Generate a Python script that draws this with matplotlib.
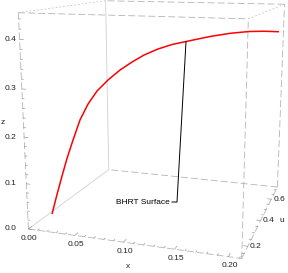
import numpy as np
import matplotlib
matplotlib.use('Agg')
import matplotlib.pyplot as plt
from matplotlib.lines import Line2D
from matplotlib.transforms import IdentityTransform
from mpl_toolkits.mplot3d import proj3d

plt.rcParams['font.family'] = ['Liberation Sans', 'DejaVu Sans']
plt.rcParams['lines.scale_dashes'] = False

# curve (x, u, z)
curve_x = [0.0233, 0.0273, 0.0313, 0.0352, 0.0399, 0.0452, 0.0513, 0.0580, 0.0661, 0.0751, 0.0842,
           0.0934, 0.1042, 0.1153, 0.1266, 0.1365, 0.1473, 0.1636, 0.1804, 0.1941, 0.2081]
curve_u = [0.1350, 0.1475, 0.1599, 0.1721, 0.1866, 0.2033, 0.2220, 0.2429, 0.2683, 0.2962, 0.3244,
           0.3530, 0.3868, 0.4213, 0.4564, 0.4871, 0.5209, 0.5716, 0.6239, 0.6663, 0.7100]
curve_z = [0.0349, 0.0758, 0.1144, 0.1506, 0.1886, 0.2294, 0.2615, 0.2872, 0.3083, 0.3274, 0.3425,
           0.3556, 0.3665, 0.3743, 0.3789, 0.3829, 0.3871, 0.3914, 0.3931, 0.3918, 0.3886]
callout_idx = 14
callout_text = "BHRT Surface"

x_lim = (0.0, 0.212)
u_lim = (0.117, 0.731)
z_lim = (0.0, 0.452)
x_ticks = [0.00, 0.05, 0.10, 0.15, 0.20]
x_labels = ["0.00", "0.05", "0.10", "0.15", "0.20"]
u_ticks = [0.2, 0.4, 0.6]
u_labels = ["0.2", "0.4", "0.6"]
z_ticks = [0.0, 0.1, 0.2, 0.3, 0.4]
z_labels = ["0.0", "0.1", "0.2", "0.3", "0.4"]

W, H = 288, 273
fig = plt.figure(figsize=(W/100, H/100), dpi=100)
ax = fig.add_axes([-0.0338, -0.0391, 1.1715, 1.2358], projection='3d')
ax.set_xlim(*x_lim)
ax.set_ylim(*u_lim)
ax.set_zlim(*z_lim)
ax.view_init(elev=12.556, azim=-71.686, roll=0)
ax.set_proj_type('persp', focal_length=0.3659)
ax.set_box_aspect((1, 0.9505, 0.9910))
ax.set_axis_off()

# bounding box
x0, x1 = x_lim
u0, u1 = u_lim
z0, z1 = z_lim
dash = dict(color='#b4b4b4', lw=0.6, dashes=(5, 2.2))
dot = dict(color='#c4c4c4', lw=0.6, dashes=(1.2, 1.5))
solid = dict(color='#d0d0d0', lw=0.6)
edges = [
    ((x0, x1), (u0, u0), (z0, z0), dash),
    ((x1, x1), (u0, u1), (z0, z0), dash),
    ((x1, x0), (u1, u1), (z0, z0), dash),
    ((x0, x0), (u1, u0), (z0, z0), solid),
    ((x0, x0), (u0, u0), (z0, z1), dash),
    ((x1, x1), (u0, u0), (z0, z1), dash),
    ((x1, x1), (u1, u1), (z0, z1), dash),
    ((x0, x0), (u1, u1), (z0, z1), solid),
    ((x0, x1), (u0, u0), (z1, z1), dash),
    ((x1, x1), (u0, u1), (z1, z1), dot),
    ((x1, x0), (u1, u1), (z1, z1), dash),
    ((x0, x0), (u1, u0), (z1, z1), dot),
]
for ex, eu, ez, st in edges:
    ax.plot(ex, eu, ez, **st)

# tick marks
tick_c = '#9a9a9a'
for t in np.arange(0, 0.4501, 0.02):
    major = any(abs(t - m) < 1e-9 for m in z_ticks)
    ln = 0.004 if major else 0.002
    ax.plot([x0, x0 + ln], [u0, u0], [t, t], color=tick_c, lw=0.5)
for t in np.arange(0, 0.2101, 0.01):
    major = any(abs(t - m) < 1e-9 for m in x_ticks)
    ln = 0.02 if major else 0.01
    ax.plot([t, t], [u0, u0 + ln], [z0, z0], color=tick_c, lw=0.5)
for t in np.arange(0.15, 0.7301, 0.05):
    major = any(abs(t - m) < 1e-9 for m in u_ticks)
    ln = 0.004 if major else 0.002
    ax.plot([x1, x1 - ln], [t, t], [z0, z0], color=tick_c, lw=0.5)

# the curve
ax.plot(curve_x, curve_u, curve_z, color='#ff0000', lw=1.1, solid_capstyle='butt')

fig.canvas.draw()


def to_px(x, u, z):
    px, py, _ = proj3d.proj_transform(np.array([x], float), np.array([u], float), np.array([z], float), ax.M)
    return ax.transData.transform(np.column_stack([px, py]))[0]


lab = dict(fontsize=6, color='#222222')
for t, s in zip(z_ticks, z_labels):
    p = to_px(x0, u0, t)
    fig.text(16.5/W, p[1]/H, s, ha='right', va='center', **lab)
for t, s in zip(x_ticks, x_labels):
    p = to_px(t, u0, z0)
    fig.text((p[0] + 1)/W, (p[1] - 9.3)/H, s, ha='center', va='center', **lab)
for t, s in zip(u_ticks, u_labels):
    p = to_px(x1, t, z0)
    fig.text((p[0] + 2)/W, p[1]/H, s, ha='left', va='center', **lab)

fig.text(128/W, 1 - 266/H, 'x', ha='center', va='center', **lab)
fig.text(281.5/W, 1 - 221/H, 'u', ha='center', va='center', **lab)
fig.text(3/W, 1 - 123/H, 'z', ha='center', va='center', **lab)

# callout
ap = to_px(curve_x[callout_idx], curve_u[callout_idx], curve_z[callout_idx])
lab_x, lab_y = 172, H - 202
fig.add_artist(Line2D([ap[0], lab_x + 5, lab_x], [ap[1], lab_y, lab_y],
                      transform=IdentityTransform(), color='black', lw=0.7))
fig.text((lab_x - 2)/W, lab_y/H, callout_text, ha='right', va='center', fontsize=6, color='black')

fig.savefig('out.png', dpi=100)
